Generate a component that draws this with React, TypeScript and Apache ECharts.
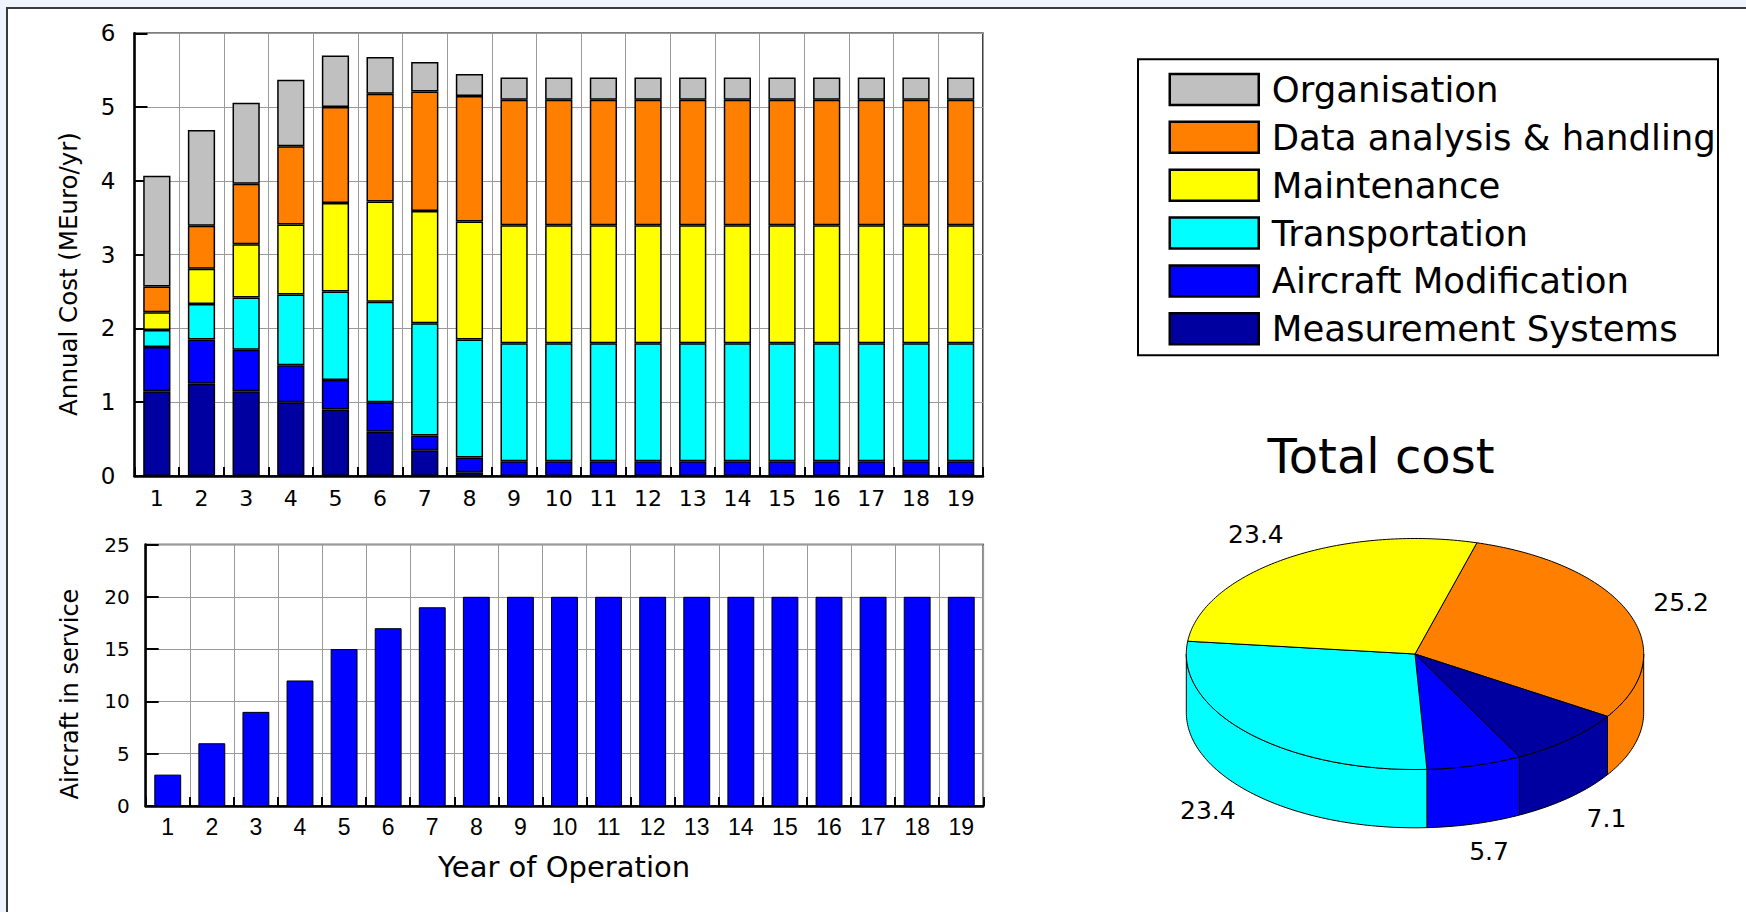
import React, { useEffect, useRef } from 'react';
import * as echarts from 'echarts';

// ---------- data ----------
const years = ['1','2','3','4','5','6','7','8','9','10','11','12','13','14','15','16','17','18','19'];

const measurementSystems   = [1.15, 1.25, 1.15, 1.00, 0.90, 0.60, 0.35, 0.05, 0, 0, 0, 0, 0, 0, 0, 0, 0, 0, 0];
const aircraftModification = [0.60, 0.60, 0.56, 0.50, 0.40, 0.40, 0.20, 0.20, 0.20, 0.20, 0.20, 0.20, 0.20, 0.20, 0.20, 0.20, 0.20, 0.20, 0.20];
const transportation       = [0.23, 0.48, 0.71, 0.96, 1.20, 1.36, 1.52, 1.60, 1.60, 1.60, 1.60, 1.60, 1.60, 1.60, 1.60, 1.60, 1.60, 1.60, 1.60];
const maintenance          = [0.24, 0.48, 0.72, 0.95, 1.20, 1.36, 1.52, 1.60, 1.60, 1.60, 1.60, 1.60, 1.60, 1.60, 1.60, 1.60, 1.60, 1.60, 1.60];
const dataAnalysis         = [0.35, 0.58, 0.82, 1.06, 1.30, 1.46, 1.62, 1.70, 1.70, 1.70, 1.70, 1.70, 1.70, 1.70, 1.70, 1.70, 1.70, 1.70, 1.70];
const organisation         = [1.50, 1.30, 1.10, 0.90, 0.70, 0.50, 0.40, 0.30, 0.30, 0.30, 0.30, 0.30, 0.30, 0.30, 0.30, 0.30, 0.30, 0.30, 0.30];

const aircraftInService = [3, 6, 9, 12, 15, 17, 19, 20, 20, 20, 20, 20, 20, 20, 20, 20, 20, 20, 20];

const pieNames  = ['Data analysis & handling', 'Measurement Systems', 'Aircraft Modification', 'Transportation', 'Maintenance'];
const pieValues = [25.2, 7.1, 5.7, 23.4, 23.4];

const legendOrder = ['Organisation', 'Data analysis & handling', 'Maintenance', 'Transportation', 'Aircraft Modification', 'Measurement Systems'];

// ---------- styles ----------
const COLORS: Record<string, string> = {
  'Organisation': '#C0C0C0',
  'Data analysis & handling': '#FF8000',
  'Maintenance': '#FFFF00',
  'Transportation': '#00FFFF',
  'Aircraft Modification': '#0000FF',
  'Measurement Systems': '#0000A0',
};
const FONT = 'DejaVu Sans';
const GRID_COLOR = '#9a9a9a';

// pie layout
const PIE_CX = 1415;
const PIE_CY = 654;
const PIE_RX = 228.7;
const PIE_RY = 115.5;
const PIE_DEPTH = 58.3;
const PIE_START = (-74.3 * Math.PI) / 180;
const LABEL_K = 1.245;

const stackSeries = [
  { name: 'Measurement Systems', data: measurementSystems },
  { name: 'Aircraft Modification', data: aircraftModification },
  { name: 'Transportation', data: transportation },
  { name: 'Maintenance', data: maintenance },
  { name: 'Data analysis & handling', data: dataAnalysis },
  { name: 'Organisation', data: organisation },
];

function pieRenderItem(params: any, api: any) {
  const i = params.dataIndex;
  const total = pieValues.reduce((a, b) => a + b, 0);
  let cum = 0;
  for (let j = 0; j < i; j++) cum += pieValues[j];
  const v = api.value(0);
  const a0 = PIE_START + (cum / total) * Math.PI * 2;
  const a1 = a0 + (v / total) * Math.PI * 2;
  const color = COLORS[pieNames[i]];
  const pt = (t: number, dy: number) => [PIE_CX + PIE_RX * Math.cos(t), PIE_CY + PIE_RY * Math.sin(t) + dy];
  const arc = (s: number, e: number, dy: number) => {
    const n = Math.max(2, Math.ceil(((e - s) * 180) / Math.PI));
    const out: number[][] = [];
    for (let k = 0; k <= n; k++) out.push(pt(s + ((e - s) * k) / n, dy));
    return out;
  };
  const children: any[] = [];
  for (const off of [-2 * Math.PI, 0, 2 * Math.PI]) {
    const s = Math.max(a0, off);
    const e = Math.min(a1, off + Math.PI);
    if (e > s) {
      const pts = arc(s, e, 0).concat(arc(s, e, PIE_DEPTH).reverse());
      children.push({ type: 'polygon', shape: { points: pts }, style: { fill: color, stroke: '#000', lineWidth: 1 } });
    }
  }
  children.push({
    type: 'polygon',
    shape: { points: [[PIE_CX, PIE_CY]].concat(arc(a0, a1, 0)) },
    style: { fill: color, stroke: '#000', lineWidth: 1 },
  });
  const mid = (a0 + a1) / 2;
  const lx = PIE_CX + PIE_RX * LABEL_K * Math.cos(mid);
  const ly = PIE_CY + PIE_RY * LABEL_K * Math.sin(mid) + (Math.sin(mid) > 0 ? PIE_DEPTH : 0);
  children.push({
    type: 'text',
    x: lx,
    y: ly,
    style: { text: v.toFixed(1), fill: '#000', fontSize: 25, fontFamily: FONT, align: 'center', verticalAlign: 'middle' },
  });
  return { type: 'group', children };
}

export default function App() {
  const ref = useRef<HTMLDivElement>(null);
  useEffect(() => {
    const chart = echarts.init(ref.current!, null, { renderer: 'svg' });
    const option: any = {
      animation: false,
      backgroundColor: 'transparent',
      grid: [
        { left: 134.5, top: 33.3, width: 848.5, height: 442.7, show: true, borderColor: '#000', borderWidth: 1.5, backgroundColor: 'transparent' },
        { left: 145.7, top: 544.5, width: 837.6, height: 261.5, show: true, borderColor: '#000', borderWidth: 1.5, backgroundColor: 'transparent' },
      ],
      xAxis: [
        {
          type: 'category', gridIndex: 0, data: years,
          axisLine: { show: true, lineStyle: { color: '#000', width: 2.5 } },
          axisTick: { show: true, inside: true, length: 9, interval: 0, lineStyle: { color: '#000', width: 2 } },
          axisLabel: { interval: 0, margin: 11, color: '#000', fontSize: 22, fontFamily: FONT },
          splitLine: { show: true, interval: 0, lineStyle: { color: GRID_COLOR, width: 1 } },
        },
        {
          type: 'category', gridIndex: 1, data: years,
          axisLine: { show: true, lineStyle: { color: '#000', width: 2.5 } },
          axisTick: { show: true, inside: true, length: 9, interval: 0, lineStyle: { color: '#000', width: 2 } },
          axisLabel: { interval: 0, margin: 9, color: '#000', fontSize: 23, fontFamily: 'Liberation Sans' },
          splitLine: { show: true, interval: 0, lineStyle: { color: GRID_COLOR, width: 1 } },
        },
      ],
      yAxis: [
        {
          type: 'value', gridIndex: 0, min: 0, max: 6, interval: 1,
          axisLine: { show: true, lineStyle: { color: '#000', width: 2.5 } },
          axisTick: { show: true, inside: true, length: 13, lineStyle: { color: '#000', width: 2 } },
          axisLabel: { margin: 19, color: '#000', fontSize: 23, fontFamily: FONT },
          splitLine: { show: true, lineStyle: { color: GRID_COLOR, width: 1 } },
        },
        {
          type: 'value', gridIndex: 1, min: 0, max: 25, interval: 5,
          axisLine: { show: true, lineStyle: { color: '#000', width: 2.5 } },
          axisTick: { show: true, inside: true, length: 13, lineStyle: { color: '#000', width: 2 } },
          axisLabel: { margin: 16, color: '#000', fontSize: 20, fontFamily: FONT },
          splitLine: { show: true, lineStyle: { color: GRID_COLOR, width: 1 } },
        },
      ],
      legend: {
        orient: 'vertical',
        left: 1168.5,
        top: 71.5,
        padding: 0,
        itemWidth: 89,
        itemHeight: 31,
        itemGap: 11.85,
        icon: 'rect',
        selectedMode: false,
        itemStyle: { borderColor: '#000', borderWidth: 2.5 },
        textStyle: { fontSize: 35.5, fontFamily: FONT, color: '#000', lineHeight: 31, padding: [0, 0, 0, 8] },
        data: legendOrder,
      },
      graphic: [
        { type: 'rect', shape: { x: 1138, y: 59.3, width: 580, height: 296 }, style: { fill: 'none', stroke: '#000', lineWidth: 2 } },
        { type: 'text', x: 1381, y: 456, style: { text: 'Total cost', fill: '#000', fontSize: 48, fontFamily: FONT, align: 'center', verticalAlign: 'middle' } },
        { type: 'text', x: 68, y: 274, rotation: Math.PI / 2, style: { text: 'Annual Cost (MEuro/yr)', fill: '#000', fontSize: 24.5, fontFamily: FONT, align: 'center', verticalAlign: 'middle' } },
        { type: 'text', x: 70, y: 694, rotation: Math.PI / 2, style: { text: 'Aircraft in service', fill: '#000', fontSize: 24, fontFamily: FONT, align: 'center', verticalAlign: 'middle' } },
        { type: 'text', x: 564, y: 867, style: { text: 'Year of Operation', fill: '#000', fontSize: 29, fontFamily: FONT, align: 'center', verticalAlign: 'middle' } },
      ],
      series: [
        ...stackSeries.map((s) => ({
          name: s.name,
          type: 'bar',
          stack: 'cost',
          xAxisIndex: 0,
          yAxisIndex: 0,
          barCategoryGap: '39%',
          data: s.data,
          itemStyle: { color: COLORS[s.name], borderColor: '#000', borderWidth: 1.5 },
        })),
        {
          name: 'Aircraft in service',
          type: 'bar',
          xAxisIndex: 1,
          yAxisIndex: 1,
          barCategoryGap: '39%',
          data: aircraftInService,
          itemStyle: { color: '#0000FF', borderColor: '#000', borderWidth: 1 },
        },
        {
          name: 'Total cost',
          type: 'custom',
          coordinateSystem: 'none',
          data: pieValues.map((v, i) => ({ value: [v], name: pieNames[i] })),
          renderItem: pieRenderItem,
        },
      ],
    };
    chart.setOption(option);
    return () => chart.dispose();
  }, []);
  return (
    <div style={{ position: 'fixed', left: 0, top: 0, width: 1746, height: 912, overflow: 'hidden', background: '#eef3fd' }}>
      <div style={{ position: 'absolute', left: 6.3, top: 7.3, width: 2000, height: 2000, border: '2px solid #3a3a3a', background: '#fff' }} />
      <div ref={ref} style={{ position: 'absolute', left: 0, top: 0, width: 1746, height: 912 }} />
    </div>
  );
}
